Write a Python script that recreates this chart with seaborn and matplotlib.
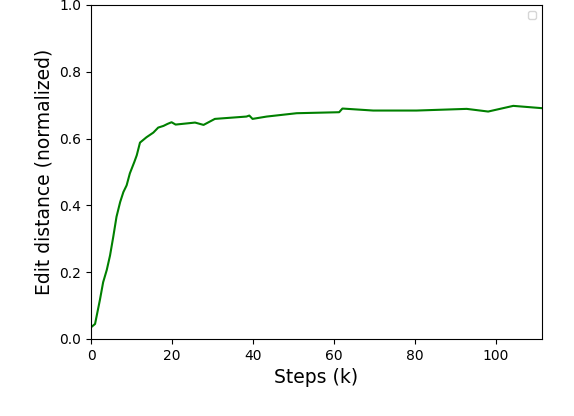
import matplotlib
matplotlib.use("Agg")
import matplotlib.pyplot as plt
import seaborn as sns
import pandas as pd

steps = [0.2, 1.0, 2.2, 3.0, 3.9, 4.7, 5.5, 6.3, 7.2, 8.0, 8.8, 9.6, 10.7, 11.3, 12.1,
         13.7, 15.4, 16.6, 17.9, 18.9, 19.9, 20.9, 25.7, 27.8, 30.6, 38.4, 39.1, 39.9,
         43.4, 50.8, 61.3, 62.1, 69.7, 80.4, 92.8, 98.1, 104.3, 111.5]
edit_dist = [0.037, 0.045, 0.117, 0.17, 0.207, 0.25, 0.306, 0.366, 0.41, 0.44, 0.46,
             0.496, 0.53, 0.55, 0.588, 0.604, 0.618, 0.633, 0.638, 0.644, 0.649, 0.642,
             0.648, 0.641, 0.659, 0.666, 0.669, 0.659, 0.666, 0.676, 0.679, 0.69, 0.684,
             0.684, 0.689, 0.681, 0.698, 0.691]

df = pd.DataFrame({"Steps (k)": steps, "Edit distance (normalized)": edit_dist})

fig = plt.figure(figsize=(5.74, 4.16), dpi=100)
ax = fig.add_axes([91/574, 1 - 339/416, (542 - 91)/574, (339 - 5)/416])
sns.lineplot(data=df, x="Steps (k)", y="Edit distance (normalized)", color="g",
             linewidth=1.5, ax=ax)
ax.set_xlim(0, 111.4)
ax.set_ylim(0.0, 1.0)
ax.set_xlabel("Steps (k)", fontsize=13.5)
ax.set_ylabel("Edit distance (normalized)", fontsize=13.5)
ax.tick_params(labelsize=10)
ax.legend(handles=[], loc="upper right", fontsize=8)
fig.savefig("out.png", dpi=100)
